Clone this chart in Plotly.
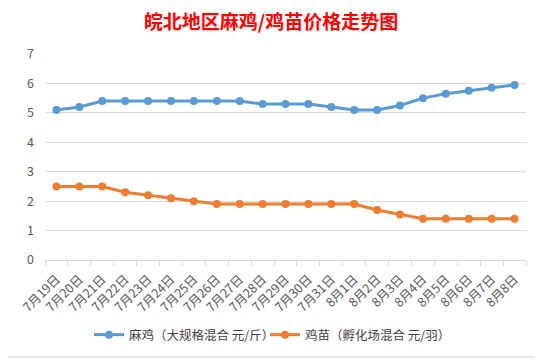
import plotly.graph_objects as go

dates = ["7月19日","7月20日","7月21日","7月22日","7月23日","7月24日","7月25日","7月26日",
         "7月27日","7月28日","7月29日","7月30日","7月31日","8月1日","8月2日","8月3日",
         "8月4日","8月5日","8月6日","8月7日","8月8日"]
maji = [5.1,5.2,5.4,5.4,5.4,5.4,5.4,5.4,5.4,5.3,5.3,5.3,5.2,5.1,5.1,5.25,5.5,5.65,5.75,5.85,5.95]
jimiao = [2.5,2.5,2.5,2.3,2.2,2.1,2.0,1.9,1.9,1.9,1.9,1.9,1.9,1.9,1.7,1.55,1.4,1.4,1.4,1.4,1.4]
name1 = "麻鸡（大规格混合 元/斤）"
name2 = "鸡苗（孵化场混合 元/羽）"
title = "皖北地区麻鸡/鸡苗价格走势图"

FONT = "Noto Sans CJK SC"
# page body has an 8px default margin: figure is 8px smaller and offset
W, H = 535, 352
OFF = 8
L, R, T, B = 45 - OFF, W - (526 - OFF), 54 - OFF, H - (260 - OFF)
PW, PH = W - L - R, H - T - B

fig = go.Figure()
fig.add_trace(go.Scatter(x=dates, y=maji, name=name1, mode="lines+markers", legend="legend",
                         line=dict(color="#5B9BD5", width=3), marker=dict(size=8, color="#5B9BD5")))
fig.add_trace(go.Scatter(x=dates, y=jimiao, name=name2, mode="lines+markers", legend="legend2",
                         line=dict(color="#ED7D31", width=3), marker=dict(size=8, color="#ED7D31")))

leg_common = dict(orientation="h", xanchor="left", yref="container",
                  y=(H - (335 - OFF)) / H, yanchor="middle", bgcolor="rgba(0,0,0,0)",
                  font=dict(family=FONT, size=12.5, color="#404040"), itemwidth=30)
fig.update_layout(
    width=W, height=H,
    margin=dict(l=L, r=R, t=T, b=B),
    paper_bgcolor="white", plot_bgcolor="white",
    font=dict(family=FONT, size=12, color="#595959"),
    title=dict(text=title, x=(271 - OFF) / W, xanchor="center", y=1 - (22 - OFF) / H, yanchor="middle",
               font=dict(family=FONT, size=19, color="#FF0000", weight="bold")),
    showlegend=True,
    legend=dict(x=(89 - 45) / PW, **leg_common),
    legend2=dict(x=(265 - 45) / PW, **leg_common),
    xaxis=dict(type="category", range=[-0.5, len(dates) - 0.5], tickangle=-45, showgrid=False,
               showline=True, linecolor="#d9d9d9", ticklabelstandoff=6,
               ticks="outside", tickson="boundaries", ticklen=5, tickcolor="#d9d9d9", automargin=False,
               tickfont=dict(family=FONT, size=12.5, color="#595959")),
    yaxis=dict(range=[0, 7], dtick=1, showgrid=True, gridcolor="#d9d9d9", zeroline=False, automargin=False,
               showline=False, ticks="", ticklabelstandoff=10,
               tickfont=dict(family=FONT, size=12.5, color="#595959")),
)
# chart-area border (right and bottom edges visible in the frame)
fig.add_shape(type="line", xref="paper", yref="paper", x0=(540 - 45) / PW, x1=(540 - 45) / PW,
              y0=(260 - 357) / PH, y1=(260 - 8) / PH, line=dict(color="#d0d0d0", width=1), layer="below")
fig.add_shape(type="line", xref="paper", yref="paper", x0=-37 / PW, x1=(540 - 45) / PW,
              y0=(260 - 357) / PH, y1=(260 - 357) / PH, line=dict(color="#d0d0d0", width=1), layer="below")
fig.write_html("out.html")
